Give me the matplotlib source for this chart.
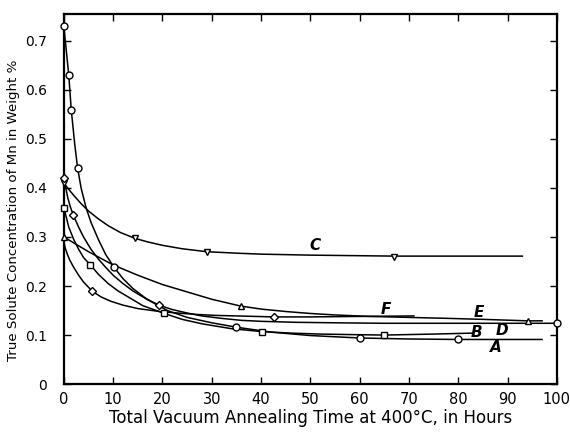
import matplotlib
matplotlib.use("Agg")
import matplotlib.pyplot as plt

# curve paths (hours, weight %)
a_x = [0, 0.5, 1, 1.5, 2.2, 2.8, 3.5, 4.5, 5.5, 7, 8.5, 10.2, 12, 14, 17, 21, 25, 30, 35, 42, 50, 60, 70, 80, 97]
a_y = [0.73, 0.68, 0.63, 0.56, 0.49, 0.44, 0.40, 0.36, 0.33, 0.295, 0.264, 0.238, 0.215, 0.195, 0.172, 0.15, 0.136, 0.125, 0.116, 0.106, 0.099, 0.094, 0.092, 0.091, 0.091]
a_mx = [0, 1, 1.5, 2.8, 10.2, 35, 60, 80]
a_my = [0.73, 0.63, 0.56, 0.44, 0.238, 0.116, 0.093, 0.091]

b_x = [0, 0.5, 1, 2, 3, 4, 5.4, 7, 9, 11, 13, 16, 20.4, 24, 28, 34, 40.2, 46, 52, 58, 65, 75, 83]
b_y = [0.36, 0.34, 0.32, 0.295, 0.275, 0.258, 0.243, 0.224, 0.205, 0.19, 0.178, 0.16, 0.144, 0.132, 0.123, 0.113, 0.107, 0.104, 0.102, 0.101, 0.10, 0.102, 0.104]
b_mx = [0, 5.4, 20.4, 40.2, 65]
b_my = [0.36, 0.243, 0.144, 0.107, 0.10]

c_x = [0, 1, 2, 3.5, 5, 7, 9, 11.5, 14.5, 17, 20, 24, 29, 35, 40, 50, 67, 80, 93]
c_y = [0.41, 0.397, 0.385, 0.368, 0.353, 0.337, 0.323, 0.309, 0.297, 0.29, 0.283, 0.276, 0.27, 0.267, 0.265, 0.263, 0.261, 0.261, 0.261]
c_mx = [0, 14.5, 29, 67]
c_my = [0.41, 0.297, 0.27, 0.26]

d_x = [0, 0.4, 0.8, 1.3, 1.9, 3, 4, 5.5, 7, 8.5, 10, 12, 14, 16.5, 19.3, 22, 25, 28, 32, 36, 40, 47, 55, 65, 75, 100]
d_y = [0.42, 0.40, 0.38, 0.362, 0.345, 0.32, 0.30, 0.275, 0.255, 0.238, 0.222, 0.205, 0.19, 0.175, 0.161, 0.152, 0.145, 0.139, 0.134, 0.13, 0.128, 0.126, 0.125, 0.124, 0.124, 0.124]
d_mx = [0, 1.9, 19.3, 100]
d_my = [0.42, 0.345, 0.161, 0.124]
d_mk = ["D", "D", "D", "o"]

e_x = [0, 5, 10, 15, 20, 25, 30, 35.9, 40, 45, 50, 55, 62, 70, 78, 85, 94.1, 97]
e_y = [0.30, 0.27, 0.243, 0.222, 0.203, 0.188, 0.173, 0.159, 0.153, 0.148, 0.144, 0.141, 0.138, 0.136, 0.134, 0.132, 0.129, 0.129]
e_mx = [0, 35.9, 94.1]
e_my = [0.30, 0.159, 0.129]

f_x = [0, 0.3, 0.7, 1.2, 2, 3, 4, 5.7, 7.5, 9.5, 12, 15, 19.5, 23, 27, 31, 35, 42.6, 50, 60, 71]
f_y = [0.29, 0.277, 0.265, 0.253, 0.238, 0.222, 0.208, 0.19, 0.178, 0.169, 0.161, 0.154, 0.148, 0.145, 0.142, 0.14, 0.139, 0.137, 0.137, 0.138, 0.139]
f_mx = [5.7, 42.6]
f_my = [0.19, 0.137]

labels = ["A", "B", "C", "D", "E", "F"]
label_x = [87.6, 83.7, 50.9, 88.8, 84.2, 65.3]
label_y = [0.074, 0.106, 0.282, 0.109, 0.146, 0.153]

fig = plt.figure(figsize=(5.7, 4.34), dpi=100)
ax = fig.add_axes([0.112, 0.115, 0.865, 0.853])

mk = dict(ms=5, mfc="white", mec="black", mew=1.0, ls="none", zorder=3, clip_on=False)
for xs, ys in [(a_x, a_y), (b_x, b_y), (c_x, c_y), (d_x, d_y), (e_x, e_y), (f_x, f_y)]:
    ax.plot(xs, ys, color="black", lw=1.1, zorder=2, solid_joinstyle="round")

ax.plot(a_mx, a_my, marker="o", **mk)
ax.plot(b_mx, b_my, marker="s", **mk)
ax.plot(c_mx, c_my, marker="v", **mk)
for x, y, m in zip(d_mx, d_my, d_mk):
    ax.plot([x], [y], marker=m, **dict(mk, ms=5 if m == "o" else 4.5))
ax.plot(e_mx, e_my, marker="^", **mk)
ax.plot(f_mx, f_my, marker="D", **dict(mk, ms=4.5))

for t, x, y in zip(labels, label_x, label_y):
    ax.text(x, y, t, fontsize=11, style="italic", fontweight="bold", ha="center", va="center")

ax.set_xlim(0, 100)
ax.set_ylim(0, 0.755)
ax.set_xticks(range(0, 101, 10))
ax.set_yticks([0, 0.1, 0.2, 0.3, 0.4, 0.5, 0.6, 0.7])
ax.set_yticklabels(["0", "0.1", "0.2", "0.3", "0.4", "0.5", "0.6", "0.7"])
ax.tick_params(direction="in", top=True, right=True, length=5, width=1, labelsize=10.5)
ax.tick_params(axis="y", pad=12, labelsize=10)
ax.tick_params(axis="x", pad=6)
for s in ax.spines.values():
    s.set_linewidth(1.6)

ax.set_xlabel("Total Vacuum Annealing Time at 400°C, in Hours", fontsize=12)
ax.set_ylabel("True Solute Concentration of Mn in Weight %", fontsize=9.6)
ax.xaxis.set_label_coords(0.5, -0.066)
ax.yaxis.set_label_coords(-0.088, 0.47)

fig.savefig("out.png", dpi=100)
